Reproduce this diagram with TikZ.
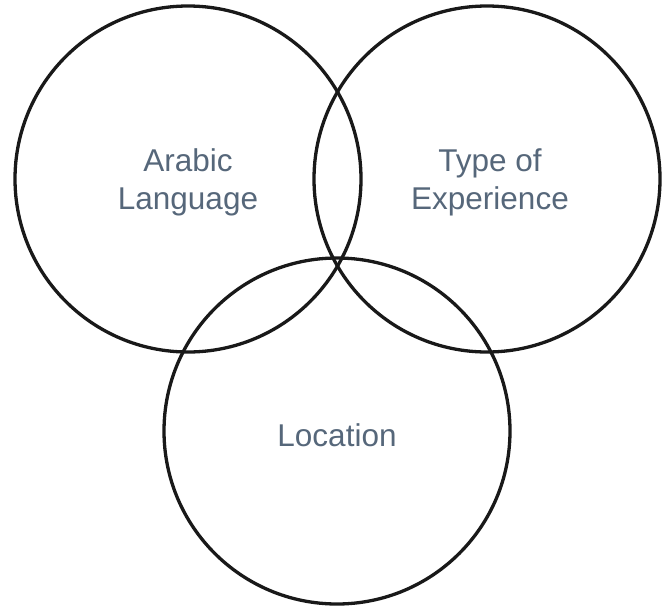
\documentclass[tikz,border=0pt]{standalone}
\usepackage{fontspec}
\setmainfont{Liberation Sans}
\definecolor{txt}{HTML}{56677A}
\begin{document}
\begin{tikzpicture}[x=1pt,y=-1pt,
  ring/.style={draw=black!90, line width=3.3pt},
  lbl/.style={text=txt, font=\fontsize{31.5}{38}\selectfont, align=center}]
\useasboundingbox (0,0) rectangle (663,608);
\draw[ring] (188,179) circle[radius=173];
\draw[ring] (487,179) circle[radius=173];
\draw[ring] (337,431) circle[radius=173];
\node[lbl] (a) at (188,182) {Arabic\\Language};
\node[lbl] (b) at (490,182) {Type of\\Experience};
\node[lbl] (c) at (337,435) {Location};
\end{tikzpicture}
\end{document}
